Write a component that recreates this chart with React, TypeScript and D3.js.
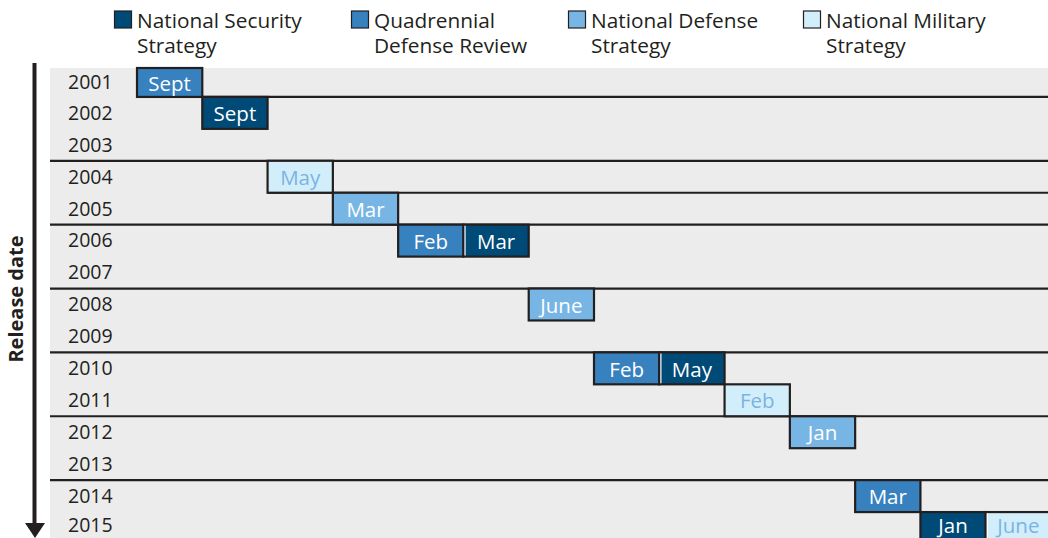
import React from 'react';
import * as d3 from 'd3';

// rows on the release-date axis
const years = ['2001', '2002', '2003', '2004', '2005', '2006', '2007', '2008', '2009', '2010', '2011', '2012', '2013', '2014', '2015'];

// one entry per document, in release order
const releaseYears = ['2001', '2002', '2004', '2005', '2006', '2006', '2008', '2010', '2010', '2011', '2012', '2014', '2015', '2015'];
const releaseMonths = ['Sept', 'Sept', 'May', 'Mar', 'Feb', 'Mar', 'June', 'Feb', 'May', 'Feb', 'Jan', 'Mar', 'Jan', 'June'];
const releaseTypes = ['QDR', 'NSS', 'NMS', 'NDS', 'QDR', 'NSS', 'NDS', 'QDR', 'NSS', 'NMS', 'NDS', 'QDR', 'NSS', 'NMS'];

const legendKeys = ['NSS', 'QDR', 'NDS', 'NMS'];
const legendLines = [
  ['National Security', 'Strategy'],
  ['Quadrennial', 'Defense Review'],
  ['National Defense', 'Strategy'],
  ['National Military', 'Strategy'],
];

// horizontal rules drawn below these years (startBox = rule starts at that box)
const ruleYears = ['2001', '2003', '2004', '2005', '2007', '2009', '2011', '2013'];
const ruleStartBox = [0, null, 2, null, null, null, null, null];

const fills: Record<string, string> = { NSS: '#004a77', QDR: '#3781bf', NDS: '#77b6e4', NMS: '#d3eefb' };
const labelFill: Record<string, string> = { NSS: '#ffffff', QDR: '#ffffff', NDS: '#ffffff', NMS: '#7ab4e2' };

const W = 1048, H = 538;
const plotLeft = 50, plotTop = 68;
const ink = '#231f20';
const font = "'Open Sans', sans-serif";

export default function App() {
  const y = d3.scaleBand<string>().domain(years).range([65, 544]);
  const x = d3.scaleBand<number>().domain(d3.range(releaseYears.length)).range([137, 1051]);
  const legendPos = d3.scaleOrdinal<string, number>().domain(legendKeys).range([114, 351, 568, 803]);

  // row extent, clipped to the grey plot area
  const rowTop = (yr: string) => Math.max(y(yr)!, plotTop);
  const rowBottom = (yr: string) => Math.min(y(yr)! + y.bandwidth(), H);

  const boxes = releaseYears.map((yr, i) => ({
    i, yr,
    x0: x(i)!, x1: x(i)! + x.bandwidth(),
    y0: rowTop(yr), y1: y(yr)! + y.bandwidth(),
    type: releaseTypes[i], month: releaseMonths[i],
  }));

  return (
    <svg width={W} height={H} style={{ position: 'absolute', left: 0, top: 0 }} fontFamily={font}>
      <rect x={plotLeft} y={plotTop} width={W - plotLeft} height={H - plotTop} fill="#ececec" />

      {years.map(yr => (
        <text key={yr} x={68} y={(rowTop(yr) + rowBottom(yr)) / 2} dy="0.35em" fontSize={19.5} fill={ink}>{yr}</text>
      ))}

      {ruleYears.map((yr, k) => {
        const yy = y(yr)! + y.bandwidth();
        const sb = ruleStartBox[k];
        const x0 = sb === null ? plotLeft : x(sb)!;
        return <line key={yr} x1={x0} x2={W} y1={yy} y2={yy} stroke={ink} strokeWidth={2.2} />;
      })}

      {boxes.map(b => (
        <g key={b.i}>
          <rect x={b.x0} y={b.y0} width={b.x1 - b.x0} height={b.y1 - b.y0} fill={fills[b.type]} stroke={ink} strokeWidth={2.2} />
          <text x={(b.x0 + b.x1) / 2} y={(b.y0 + Math.min(b.y1, H)) / 2 + 1} dy="0.35em" textAnchor="middle" fontSize={20.5} fill={labelFill[b.type]}>{b.month}</text>
        </g>
      ))}

      {boxes.slice(1).filter((b, k) => boxes[k].yr === b.yr).map(b => (
        <line key={'sep' + b.i} x1={b.x0 + 1.6} x2={b.x0 + 1.6} y1={b.y0 + 1.1} y2={b.y1 - 1.1} stroke="#ffffff" strokeWidth={1.2} />
      ))}

      {legendKeys.map((k, i) => {
        const lx = legendPos(k);
        return (
          <g key={k}>
            <rect x={lx + 0.5} y={11} width={17} height={17} fill={fills[k]} stroke={ink} strokeWidth={1.2} />
            <text x={lx + 23} y={28} fontSize={20.8} fill={ink}>{legendLines[i][0]}</text>
            <text x={lx + 23} y={53} fontSize={20.8} fill={ink}>{legendLines[i][1]}</text>
          </g>
        );
      })}

      <line x1={34.5} x2={34.5} y1={63} y2={526} stroke={ink} strokeWidth={4} />
      <path d="M25,523 L45,523 L35,538 Z" fill={ink} />
      <text transform="translate(23,299) rotate(-90)" textAnchor="middle" fontSize={20} fontWeight="bold" fill={ink}>Release date</text>
    </svg>
  );
}
